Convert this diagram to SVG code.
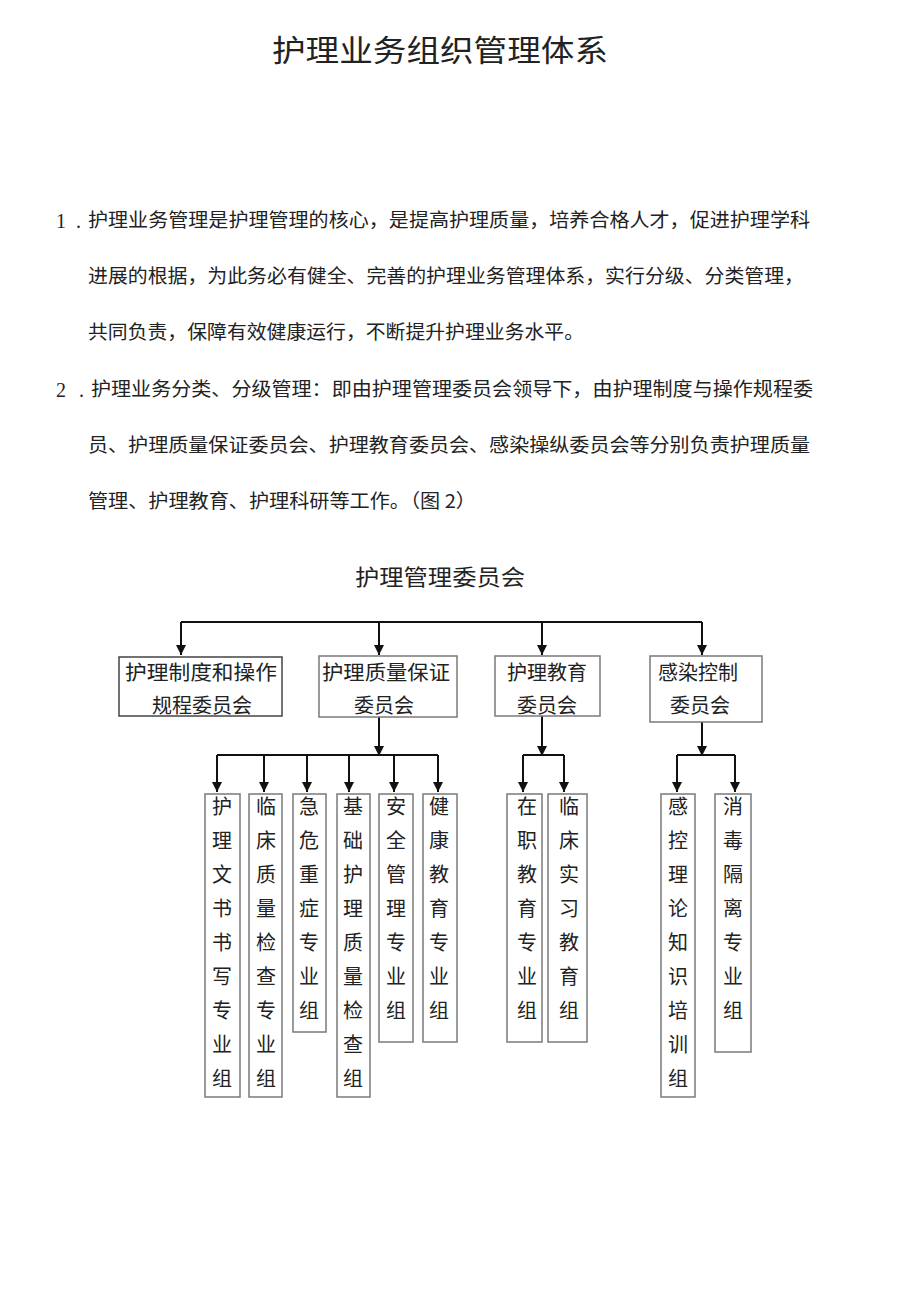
<svg xmlns="http://www.w3.org/2000/svg" width="920" height="1301" viewBox="0 0 920 1301">
<defs>
<style>
text{font-family:"Noto Sans CJK SC","Noto Sans",sans-serif;fill:#222}
.title{font-size:30px}
.sub{font-size:22px}
.para{font-size:19px}
.num{font-family:"Liberation Serif","Noto Sans CJK SC",serif;font-size:20px}
.box{fill:#fff;stroke:#7a7a7a;stroke-width:1.5}
.lbl{font-size:20px;text-anchor:middle}
.conn{fill:none;stroke:#111;stroke-width:2}
</style>
<marker id="arr" markerUnits="userSpaceOnUse" markerWidth="12" markerHeight="12" viewBox="0 0 12 12" refX="6" refY="11" orient="auto-start-reverse">
<path d="M1,1 L11,1 L6,11 Z" fill="#111" transform="rotate(-90 6 6)"/>
</marker>
<marker id="ah" markerUnits="userSpaceOnUse" markerWidth="12" markerHeight="12" viewBox="0 0 12 12" refX="11" refY="6" orient="auto">
<path d="M1,1 L11,6 L1,11 Z" fill="#111"/>
</marker>
</defs>
<rect width="920" height="1301" fill="#fff"/>

<g id="title"><text class="title" x="272" y="61" textLength="336" lengthAdjust="spacingAndGlyphs">护理业务组织管理体系</text></g>

<g id="paragraphs">
<text class="num" x="56" y="228">1</text><text class="num" x="76" y="228">.</text>
<text class="para" x="88" y="227" textLength="722" lengthAdjust="spacingAndGlyphs">护理业务管理是护理管理的核心，是提高护理质量，培养合格人才，促进护理学科</text>
<text class="para" x="88" y="283" textLength="716" lengthAdjust="spacingAndGlyphs">进展的根据，为此务必有健全、完善的护理业务管理体系，实行分级、分类管理，</text>
<text class="para" x="88" y="339" textLength="496" lengthAdjust="spacingAndGlyphs">共同负责，保障有效健康运行，不断提升护理业务水平。</text>
<text class="num" x="56" y="397">2</text><text class="num" x="79" y="397">.</text>
<text class="para" x="91" y="396" textLength="722" lengthAdjust="spacingAndGlyphs">护理业务分类、分级管理：即由护理管理委员会领导下，由护理制度与操作规程委</text>
<text class="para" x="88" y="452" textLength="722" lengthAdjust="spacingAndGlyphs">员、护理质量保证委员会、护理教育委员会、感染操纵委员会等分别负责护理质量</text>
<text class="para" x="88" y="508" textLength="388" lengthAdjust="spacingAndGlyphs">管理、护理教育、护理科研等工作。（图 2）</text>
</g>

<g id="root"><text class="sub" x="355" y="585" textLength="170" lengthAdjust="spacingAndGlyphs">护理管理委员会</text></g>

<g id="connectors">
<path class="conn" d="M181,622 H702"/>
<path class="conn" d="M181,622 V655" marker-end="url(#ah)"/>
<path class="conn" d="M379,622 V655" marker-end="url(#ah)"/>
<path class="conn" d="M542,622 V655" marker-end="url(#ah)"/>
<path class="conn" d="M702,622 V655" marker-end="url(#ah)"/>
<path class="conn" d="M379,717 V756" marker-end="url(#ah)"/>
<path class="conn" d="M542,716 V756" marker-end="url(#ah)"/>
<path class="conn" d="M702,722 V756" marker-end="url(#ah)"/>
<path class="conn" d="M217,755 H438"/>
<path class="conn" d="M523,755 H564"/>
<path class="conn" d="M677,755 H735"/>
<path class="conn" d="M217,755 V792" marker-end="url(#ah)"/>
<path class="conn" d="M264,755 V792" marker-end="url(#ah)"/>
<path class="conn" d="M307,755 V792" marker-end="url(#ah)"/>
<path class="conn" d="M349,755 V792" marker-end="url(#ah)"/>
<path class="conn" d="M394,755 V792" marker-end="url(#ah)"/>
<path class="conn" d="M438,755 V792" marker-end="url(#ah)"/>
<path class="conn" d="M523,755 V792" marker-end="url(#ah)"/>
<path class="conn" d="M564,755 V792" marker-end="url(#ah)"/>
<path class="conn" d="M677,755 V792" marker-end="url(#ah)"/>
<path class="conn" d="M735,755 V792" marker-end="url(#ah)"/>
</g>

<g id="n1"><rect class="box" x="119" y="657" width="163" height="59" style="stroke:#444"/>
<text class="lbl" x="201" y="680" textLength="152" lengthAdjust="spacingAndGlyphs">护理制度和操作</text>
<text class="lbl" x="202" y="713">规程委员会</text></g>
<g id="n2"><rect class="box" x="319" y="656" width="138" height="61"/>
<text class="lbl" x="386" y="680" textLength="128" lengthAdjust="spacingAndGlyphs">护理质量保证</text>
<text class="lbl" x="384" y="713">委员会</text></g>
<g id="n3"><rect class="box" x="495" y="656" width="105" height="60"/>
<text class="lbl" x="547" y="680">护理教育</text>
<text class="lbl" x="547" y="713">委员会</text></g>
<g id="n4"><rect class="box" x="650" y="656" width="112" height="66"/>
<text class="lbl" x="698" y="680">感染控制</text>
<text class="lbl" x="700" y="713">委员会</text></g>

<g id="s1"><rect class="box" x="205" y="794" width="35" height="303"/>
<text class="lbl"><tspan x="222" y="814">护</tspan><tspan x="222" y="848">理</tspan><tspan x="222" y="882">文</tspan><tspan x="222" y="916">书</tspan><tspan x="222" y="950">书</tspan><tspan x="222" y="984">写</tspan><tspan x="222" y="1018">专</tspan><tspan x="222" y="1052">业</tspan><tspan x="222" y="1086">组</tspan></text></g>
<g id="s2"><rect class="box" x="249" y="794" width="33" height="303"/>
<text class="lbl"><tspan x="266" y="814">临</tspan><tspan x="266" y="848">床</tspan><tspan x="266" y="882">质</tspan><tspan x="266" y="916">量</tspan><tspan x="266" y="950">检</tspan><tspan x="266" y="984">查</tspan><tspan x="266" y="1018">专</tspan><tspan x="266" y="1052">业</tspan><tspan x="266" y="1086">组</tspan></text></g>
<g id="s3"><rect class="box" x="293" y="794" width="33" height="238"/>
<text class="lbl"><tspan x="309" y="814">急</tspan><tspan x="309" y="848">危</tspan><tspan x="309" y="882">重</tspan><tspan x="309" y="916">症</tspan><tspan x="309" y="950">专</tspan><tspan x="309" y="984">业</tspan><tspan x="309" y="1018">组</tspan></text></g>
<g id="s4"><rect class="box" x="337" y="794" width="33" height="303"/>
<text class="lbl"><tspan x="353" y="814">基</tspan><tspan x="353" y="848">础</tspan><tspan x="353" y="882">护</tspan><tspan x="353" y="916">理</tspan><tspan x="353" y="950">质</tspan><tspan x="353" y="984">量</tspan><tspan x="353" y="1018">检</tspan><tspan x="353" y="1052">查</tspan><tspan x="353" y="1086">组</tspan></text></g>
<g id="s5"><rect class="box" x="379" y="794" width="34" height="248"/>
<text class="lbl"><tspan x="396" y="814">安</tspan><tspan x="396" y="848">全</tspan><tspan x="396" y="882">管</tspan><tspan x="396" y="916">理</tspan><tspan x="396" y="950">专</tspan><tspan x="396" y="984">业</tspan><tspan x="396" y="1018">组</tspan></text></g>
<g id="s6"><rect class="box" x="423" y="794" width="34" height="248"/>
<text class="lbl"><tspan x="439" y="814">健</tspan><tspan x="439" y="848">康</tspan><tspan x="439" y="882">教</tspan><tspan x="439" y="916">育</tspan><tspan x="439" y="950">专</tspan><tspan x="439" y="984">业</tspan><tspan x="439" y="1018">组</tspan></text></g>
<g id="s7"><rect class="box" x="507" y="794" width="35" height="248"/>
<text class="lbl"><tspan x="527" y="814">在</tspan><tspan x="527" y="848">职</tspan><tspan x="527" y="882">教</tspan><tspan x="527" y="916">育</tspan><tspan x="527" y="950">专</tspan><tspan x="527" y="984">业</tspan><tspan x="527" y="1018">组</tspan></text></g>
<g id="s8"><rect class="box" x="548" y="794" width="39" height="248"/>
<text class="lbl"><tspan x="569" y="814">临</tspan><tspan x="569" y="848">床</tspan><tspan x="569" y="882">实</tspan><tspan x="569" y="916">习</tspan><tspan x="569" y="950">教</tspan><tspan x="569" y="984">育</tspan><tspan x="569" y="1018">组</tspan></text></g>
<g id="s9"><rect class="box" x="661" y="794" width="34" height="303"/>
<text class="lbl"><tspan x="678" y="814">感</tspan><tspan x="678" y="848">控</tspan><tspan x="678" y="882">理</tspan><tspan x="678" y="916">论</tspan><tspan x="678" y="950">知</tspan><tspan x="678" y="984">识</tspan><tspan x="678" y="1018">培</tspan><tspan x="678" y="1052">训</tspan><tspan x="678" y="1086">组</tspan></text></g>
<g id="s10"><rect class="box" x="715" y="794" width="36" height="258"/>
<text class="lbl"><tspan x="733" y="814">消</tspan><tspan x="733" y="848">毒</tspan><tspan x="733" y="882">隔</tspan><tspan x="733" y="916">离</tspan><tspan x="733" y="950">专</tspan><tspan x="733" y="984">业</tspan><tspan x="733" y="1018">组</tspan></text></g>
</svg>
